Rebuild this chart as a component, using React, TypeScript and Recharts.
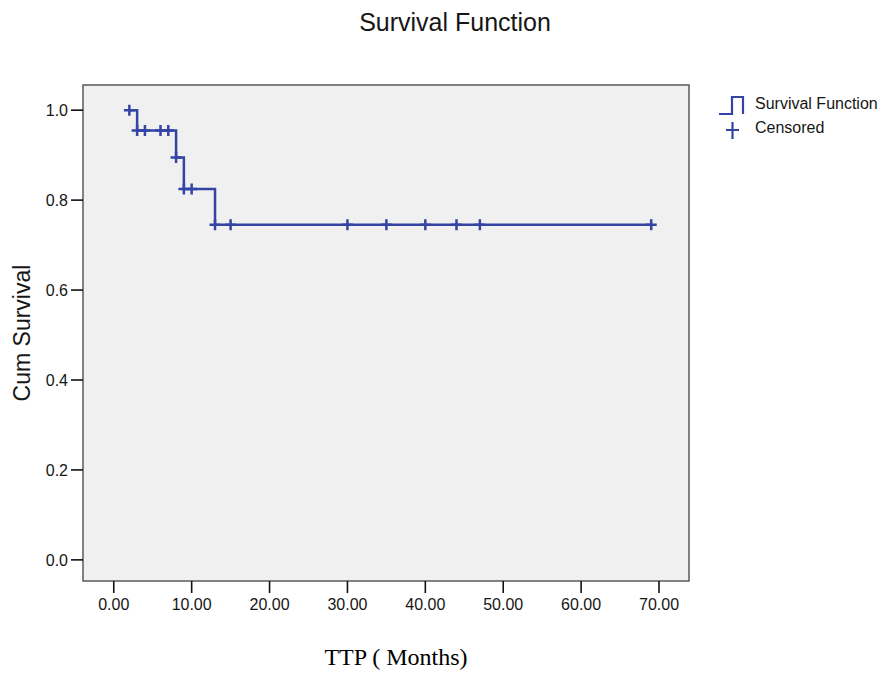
import React from 'react';
import { ComposedChart, Line, Scatter, XAxis, YAxis, ReferenceArea } from 'recharts';

// Kaplan-Meier step points (time in months, cumulative survival)
const stepTimes = [2, 3, 8, 9, 13, 69];
const stepSurvival = [1.0, 0.955, 0.895, 0.825, 0.745, 0.745];

// censored observations
const censoredTimes = [2, 3, 4, 6, 7, 8, 9, 10, 13, 15, 30, 35, 40, 44, 47, 69];
const censoredSurvival = [1.0, 0.955, 0.955, 0.955, 0.955, 0.895, 0.825, 0.825, 0.745, 0.745, 0.745, 0.745, 0.745, 0.745, 0.745, 0.745];

const xTicks = [0, 10, 20, 30, 40, 50, 60, 70];
const yTicks = [0, 0.2, 0.4, 0.6, 0.8, 1.0];

const X_MIN = -3.95;
const X_MAX = 73.85;
const Y_MIN = -0.047;
const Y_MAX = 1.056;

const BLUE = '#3444a4';
const TEXT = '#161616';
const SANS = '"Liberation Sans", Arial, sans-serif';

const stepData = stepTimes.map((t, i) => ({ t, s: stepSurvival[i] }));
const censoredData = censoredTimes.map((t, i) => ({ t, s: censoredSurvival[i] }));

const PlusShape = (props: any) => {
  const { cx, cy } = props;
  if (cx == null || cy == null) return null;
  const r = 5.5;
  return (
    <path
      d={`M${cx - r},${cy}H${cx + r}M${cx},${cy - r}V${cy + r}`}
      stroke={BLUE}
      strokeWidth={2.5}
      fill="none"
    />
  );
};

const ChartLegend = () => (
  <div style={{ position: 'absolute', left: 718, top: 92, fontFamily: SANS, fontSize: 16, color: TEXT, width: 170, height: 50 }}>
    <svg width={40} height={50} style={{ position: 'absolute', left: 0, top: 0 }}>
      <path d="M1,22 H14 V5 H25 V22" stroke={BLUE} strokeWidth={2.2} fill="none" />
      <path d="M8,38 H21 M14.5,30 V47" stroke={BLUE} strokeWidth={2.2} fill="none" />
    </svg>
    <div style={{ position: 'absolute', left: 37, top: 3, whiteSpace: 'nowrap' }}>Survival Function</div>
    <div style={{ position: 'absolute', left: 37, top: 27, whiteSpace: 'nowrap' }}>Censored</div>
  </div>
);

const App: React.FC = () => {
  return (
    <div style={{ position: 'absolute', left: 0, top: 0, width: 882, height: 675, background: '#fff' }}>
      <div
        style={{
          position: 'absolute', left: 0, width: 910, top: 8, textAlign: 'center',
          fontFamily: SANS, fontSize: 25, color: TEXT,
        }}
      >
        Survival Function
      </div>
      <div
        style={{
          position: 'absolute', left: 0, width: 792, top: 644, textAlign: 'center',
          fontFamily: '"Liberation Serif", "Times New Roman", serif', fontSize: 24, color: '#000',
        }}
      >
        TTP ( Months)
      </div>
      <div
        style={{
          position: 'absolute', left: 22, top: 333, transform: 'translate(-50%, -50%) rotate(-90deg)',
          fontFamily: SANS, fontSize: 23, color: TEXT, whiteSpace: 'nowrap',
        }}
      >
        Cum Survival
      </div>
      <ChartLegend />
      <ComposedChart
        width={882}
        height={675}
        margin={{ top: 85, right: 193, left: 13, bottom: 54 }}
        style={{ position: 'absolute', left: 0, top: 0 }}
      >
        <XAxis
          type="number"
          dataKey="t"
          domain={[X_MIN, X_MAX]}
          ticks={xTicks}
          allowDataOverflow
          height={40}
          axisLine={false}
          tickSize={12}
          tickMargin={6}
          tickLine={{ stroke: '#111', strokeWidth: 1.6 }}
          tick={{ fill: TEXT, fontSize: 16, fontFamily: SANS }}
          tickFormatter={(v: number) => v.toFixed(2)}
        />
        <YAxis
          type="number"
          dataKey="s"
          domain={[Y_MIN, Y_MAX]}
          ticks={yTicks}
          allowDataOverflow
          width={70}
          axisLine={false}
          tickSize={12}
          tickMargin={3}
          tickLine={{ stroke: '#111', strokeWidth: 1.6 }}
          tick={{ fill: TEXT, fontSize: 16, fontFamily: SANS }}
          tickFormatter={(v: number) => v.toFixed(1)}
        />
        <ReferenceArea
          x1={X_MIN}
          x2={X_MAX}
          y1={Y_MIN}
          y2={Y_MAX}
          fill="#f0f0f0"
          fillOpacity={1}
          stroke="#5a5a5a"
          strokeWidth={1.5}
          ifOverflow="extendDomain"
        />
        <Line
          data={stepData}
          type="stepAfter"
          dataKey="s"
          stroke={BLUE}
          strokeWidth={2.5}
          dot={false}
          activeDot={false}
          isAnimationActive={false}
          legendType="none"
        />
        <Scatter
          data={censoredData}
          dataKey="s"
          shape={<PlusShape />}
          isAnimationActive={false}
          legendType="none"
        />
      </ComposedChart>
    </div>
  );
};

export default App;
